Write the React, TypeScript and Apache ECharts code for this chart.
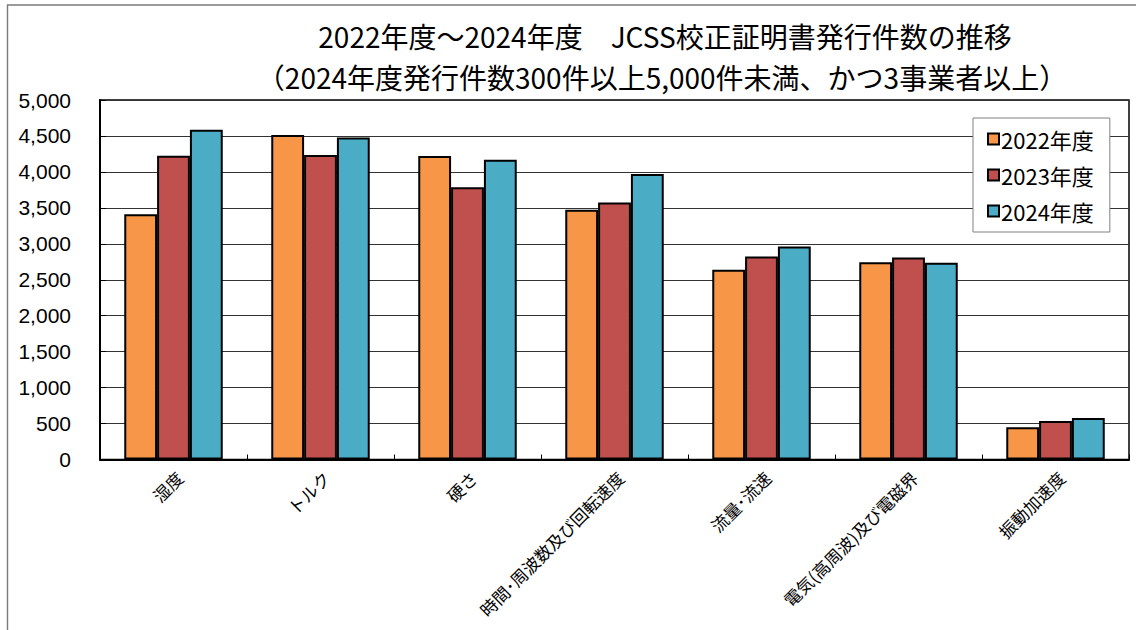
import React, { useEffect, useRef } from "react";
import * as echarts from "echarts";

const categories = [
  "湿度",
  "トルク",
  "硬さ",
  "時間･周波数及び回転速度",
  "流量･流速",
  "電気(高周波)及び電磁界",
  "振動加速度",
];
const seriesNames = ["2022年度", "2023年度", "2024年度"];
const values2022 = [3412, 4512, 4220, 3474, 2638, 2745, 450];
const values2023 = [4224, 4234, 3788, 3576, 2824, 2810, 534];
const values2024 = [4586, 4480, 4169, 3971, 2963, 2736, 576];
const colors = ["#F79646", "#C0504D", "#4BACC6"];
const titleLines = [
  "2022年度～2024年度　JCSS校正証明書発行件数の推移",
  "（2024年度発行件数300件以上5,000件未満、かつ3事業者以上）",
];

export default function App() {
  const ref = useRef<HTMLDivElement>(null);
  useEffect(() => {
    document.body.style.margin = "0";
    if (!ref.current) return;
    const chart = echarts.init(ref.current, null, { renderer: "svg" });
    const data = [values2022, values2023, values2024];
    const titleStyle = {
      fontFamily: "Noto Sans CJK JP",
      fontSize: 28,
      fontWeight: "normal",
      lineHeight: 30,
      color: "#000",
    };
    chart.setOption({
      animation: false,
      backgroundColor: "#fff",
      title: [
        { text: titleLines[0], left: 665, top: 20.5, textAlign: "center", padding: 0, textStyle: titleStyle },
        { text: titleLines[1], left: 662, top: 62, textAlign: "center", padding: 0, textStyle: titleStyle },
      ],
      graphic: [
        {
          type: "rect",
          shape: { x: 7.5, y: 5, width: 1300, height: 800 },
          style: { fill: "none", stroke: "#7a7a7a", lineWidth: 1.4 },
          silent: true,
          z: 100,
        },
      ],
      legend: {
        orient: "vertical",
        left: 973,
        top: 118,
        padding: [10, 16, 10, 14],
        itemWidth: 11,
        itemHeight: 11,
        itemGap: 14,
        backgroundColor: "#fff",
        borderColor: "#808080",
        borderWidth: 1,
        icon: "rect",
        textStyle: {
          fontFamily: "Noto Sans CJK JP",
          fontSize: 22,
          color: "#000",
          padding: [0, 0, 0, -3],
        },
        data: seriesNames,
      },
      grid: {
        left: 100,
        top: 100,
        width: 1029,
        height: 359.5,
        show: true,
        borderColor: "#000",
        borderWidth: 1.5,
        containLabel: false,
      },
      xAxis: {
        type: "category",
        data: categories,
        axisLine: { lineStyle: { color: "#000", width: 2 } },
        axisTick: { show: true, inside: true, length: 5, lineStyle: { color: "#000" } },
        axisLabel: {
          rotate: 45,
          interval: 0,
          margin: 9,
          verticalAlign: "top",
          fontFamily: "Noto Sans CJK JP",
          fontSize: 17,
          color: "#000",
        },
      },
      yAxis: {
        type: "value",
        min: 0,
        max: 5000,
        interval: 500,
        axisLine: { show: true, lineStyle: { color: "#000", width: 2 } },
        axisTick: { show: true, inside: true, length: 6, lineStyle: { color: "#000" } },
        splitLine: { show: true, lineStyle: { color: "#333", width: 1 } },
        axisLabel: {
          margin: 29,
          fontFamily: "Liberation Sans",
          fontSize: 21,
          color: "#000",
          formatter: (v: number) => v.toLocaleString("en-US"),
        },
      },
      series: seriesNames.map((name, i) => ({
        name,
        type: "bar",
        data: data[i],
        barGap: "0%",
        barCategoryGap: "33%",
        itemStyle: { color: colors[i], borderColor: "#000", borderWidth: 2 },
      })),
    });
    return () => chart.dispose();
  }, []);
  return <div ref={ref} style={{ width: 1136, height: 630 }} />;
}
